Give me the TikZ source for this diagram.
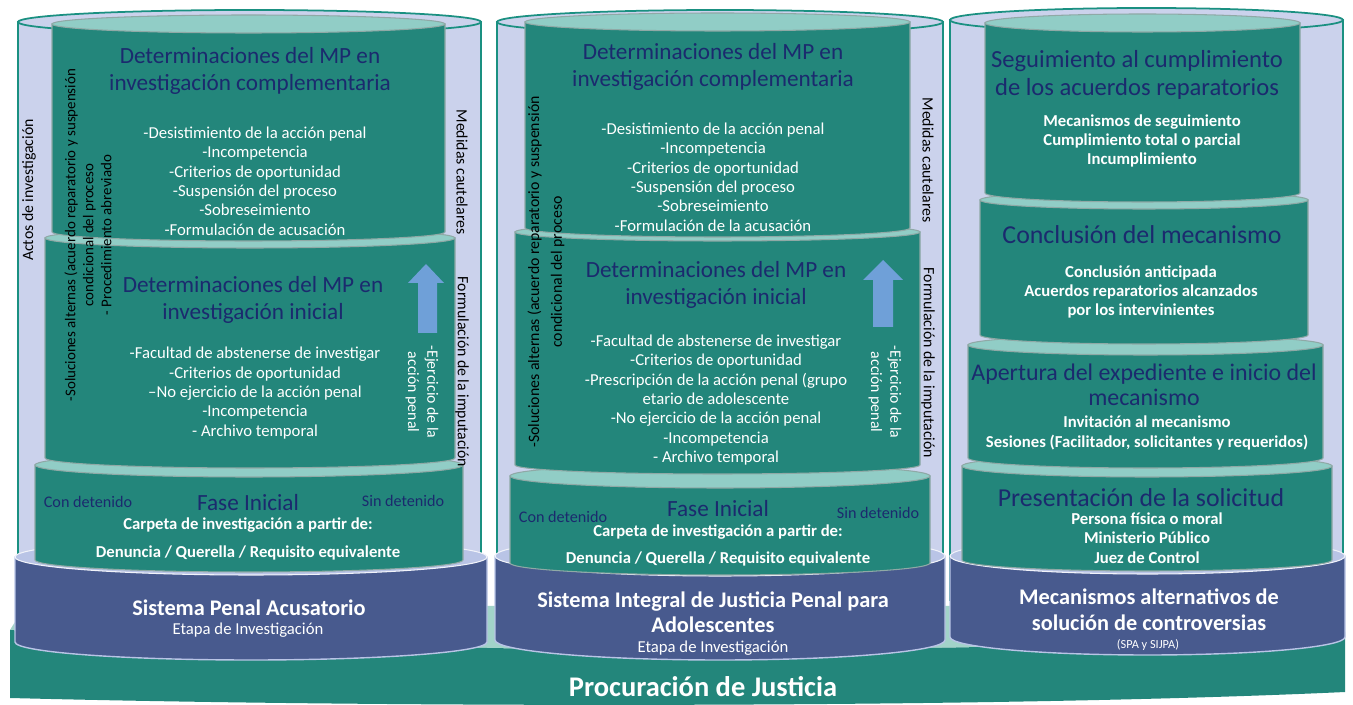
\documentclass[tikz,border=0pt]{standalone}
\usepackage{fontspec}
\setmainfont{Carlito}
\usepackage{xcolor}

\definecolor{drumteal}{HTML}{23867B}
\definecolor{drumlight}{HTML}{91CDC6}
\definecolor{drumedge}{HTML}{8FA9A6}
\definecolor{outerfill}{HTML}{CBD2EC}
\definecolor{outerline}{HTML}{1A9081}
\definecolor{basefill}{HTML}{485A8E}
\definecolor{baselight}{HTML}{B9C4E6}
\definecolor{slabfill}{HTML}{23867B}
\definecolor{slablight}{HTML}{A2D3C9}
\definecolor{arrowblue}{HTML}{6FA0D8}
\definecolor{titlenavy}{HTML}{1B2A6E}

\begin{document}
\begin{tikzpicture}[x=0.02cm,y=0.02cm,yscale=-1,
    drumbody/.style={fill=drumteal,draw=drumedge,line width=0.6pt},
    drumtop/.style={fill=drumlight,draw=drumedge,line width=0.6pt},
    outerbody/.style={fill=outerfill,draw=outerline,line width=1pt},
    basebody/.style={fill=basefill,draw=baselight,line width=0.8pt},
    basetop/.style={fill=baselight,draw=white!80!baselight,line width=0.6pt},
    titletext/.style={text=titlenavy,align=center,font=\fontsize{13.2}{15.3}\selectfont},
    bigtitle/.style={text=titlenavy,align=center,font=\fontsize{14.7}{15.9}\selectfont},
    listtext/.style={text=white,align=center,font=\fontsize{9.5}{11}\selectfont},
    boldlist/.style={text=white,align=center,font=\fontsize{9.5}{11}\selectfont\bfseries},
    sidetext/.style={text=titlenavy,font=\fontsize{9.2}{11}\selectfont},
    systext/.style={text=white,align=center,font=\fontsize{12.7}{14.3}\selectfont\bfseries},
    vtext/.style={text=black,align=center,font=\fontsize{9}{11}\selectfont},
  ]
  \useasboundingbox (0,0) rectangle (1353,705);

  % Base slab
  \fill[slablight] (10,630) -- (25,606) -- (1333,606) -- (1345,632)
    .. controls (1000,656) and (400,656) .. (10,630) -- cycle;
  \fill[slabfill] (10,630) .. controls (400,656) and (1000,656) .. (1345,632)
    -- (1345,692) .. controls (1000,708) and (400,708) .. (10,698) -- cycle;

  % Outer cylinders
  \foreach \xa/\xb/\yt/\ry in {18/481/22/12, 497/943/22/12, 950/1343/20/12}
  {
    \pgfmathsetmacro\rx{(\xb-\xa)/2}
    \pgfmathsetmacro\xm{(\xa+\xb)/2}
    \filldraw[outerbody] (\xa,\yt) -- (\xa,600) -- (\xb,600) -- (\xb,\yt) -- cycle;
    \filldraw[outerbody] (\xm,\yt) ellipse[x radius=\rx,y radius=\ry];
  }

  % Blue bases
  \foreach \xa/\xb/\yt/\yb/\ry in {15/487/557/642/18, 495/945/556/640/20, 950/1345/556/637/18}
  {
    \pgfmathsetmacro\rx{(\xb-\xa)/2}
    \pgfmathsetmacro\xm{(\xa+\xb)/2}
    \filldraw[basebody] (\xa,\yt) -- (\xa,\yb)
      arc[start angle=180,end angle=0,x radius=\rx,y radius=\ry] -- (\xb,\yt) -- cycle;
    \filldraw[basetop] (\xm,\yt) ellipse[x radius=\rx,y radius=\ry];
  }

  % Drums (lowest first)
  \foreach \xa/\xb/\yt/\yb/\ry in {35/463/465/560/12, 45/455/238/458/10, 52/445/24/232/9,
      510/930/476/563/12, 515/920/232/465/9, 525/910/22/228/9,
      962/1332/466/560/11, 968/1323/345/458/10, 980/1308/200/335/9, 985/1300/23/193/9}
  {
    \pgfmathsetmacro\rx{(\xb-\xa)/2}
    \pgfmathsetmacro\xm{(\xa+\xb)/2}
    \filldraw[drumbody] (\xa,\yt) -- (\xa,\yb)
      arc[start angle=180,end angle=0,x radius=\rx,y radius=\ry] -- (\xb,\yt) -- cycle;
    \filldraw[drumtop] (\xm,\yt) ellipse[x radius=\rx,y radius=\ry];
  }

  % Arrows
  \fill[arrowblue] (418,333) -- (418,283) -- (408,283) -- (426,264) -- (444,283) -- (437,283) -- (437,333) -- cycle;
  \fill[arrowblue] (873,327) -- (873,280) -- (863,280) -- (883,260) -- (903,280) -- (893,280) -- (893,327) -- cycle;

  % Column 1
  \node[titletext] (c1tc) at (250,71) {Determinaciones del MP en\\investigación complementaria};
  \node[listtext] (c1lc) at (255,181) {-Desistimiento de la acción penal\\-Incompetencia\\-Criterios de oportunidad\\-Suspensión del proceso\\-Sobreseimiento\\-Formulación de acusación};
  \node[titletext] (c1ti) at (253,300) {Determinaciones del MP en\\investigación inicial};
  \node[listtext] (c1li) at (255,393) {-Facultad de abstenerse de investigar\\-Criterios de oportunidad\\--No ejercicio de la acción penal\\-Incompetencia\\- Archivo temporal};
  \node[sidetext] (c1con) at (88,502) {Con detenido};
  \node[titletext] (c1fase) at (248,503) {Fase Inicial};
  \node[sidetext] (c1sin) at (403,501) {Sin detenido};
  \node[boldlist] (c1carp) at (248,525) {Carpeta de investigación a partir de:};
  \node[boldlist] (c1den) at (248,553) {Denuncia / Querella / Requisito equivalente};
  \node[systext] (c1sis) at (249,608) {Sistema Penal Acusatorio};
  \node[listtext] (c1eta) at (248,630) {Etapa de Investigación};
  \node[vtext,rotate=90] (c1act) at (29,190) {Actos de investigación};
  \node[vtext,rotate=90,font=\fontsize{8.5}{10.2}\selectfont] (c1sol) at (88,235) {-Soluciones alternas (acuerdo reparatorio y suspensión\\condicional del proceso\\- Procedimiento abreviado};
  \node[vtext,rotate=-90] (c1med) at (462,172) {Medidas cautelares};
  \node[vtext,rotate=-90] (c1for) at (462,372) {Formulación de la imputación};
  \node[vtext,rotate=-90,text=white] (c1eje) at (422,392) {-Ejercicio de la\\acción penal};

  % Column 2
  \node[titletext] (c2tc) at (713,67) {Determinaciones del MP en\\investigación complementaria};
  \node[listtext] (c2lc) at (713,177) {-Desistimiento de la acción penal\\-Incompetencia\\-Criterios de oportunidad\\-Suspensión del proceso\\-Sobreseimiento\\-Formulación de la acusación};
  \node[titletext] (c2ti) at (716,285) {Determinaciones del MP en\\investigación inicial};
  \node[listtext] (c2li) at (716,400) {-Facultad de abstenerse de investigar\\-Criterios de oportunidad\\-Prescripción de la acción penal (grupo\\etario de adolescente\\-No ejercicio de la acción penal\\-Incompetencia\\- Archivo temporal};
  \node[sidetext] (c2con) at (563,517) {Con detenido};
  \node[titletext] (c2fase) at (718,509) {Fase Inicial};
  \node[sidetext] (c2sin) at (878,513) {Sin detenido};
  \node[boldlist] (c2carp) at (718,532) {Carpeta de investigación a partir de:};
  \node[boldlist] (c2den) at (718,559) {Denuncia / Querella / Requisito equivalente};
  \node[systext] (c2sis) at (713,612) {Sistema Integral de Justicia Penal para\\Adolescentes};
  \node[listtext] (c2eta) at (713,648) {Etapa de Investigación};
  \node[vtext,rotate=90,font=\fontsize{9}{13}\selectfont] (c2sol) at (546,272) {-Soluciones alternas (acuerdo reparatorio y suspensión\\condicional del proceso};
  \node[vtext,rotate=-90] (c2med) at (928,160) {Medidas cautelares};
  \node[vtext,rotate=-90] (c2for) at (928,363) {Formulación de la imputación};
  \node[vtext,rotate=-90,text=white] (c2eje) at (885,392) {-Ejercicio de la\\acción penal};

  % Column 3
  \node[bigtitle,font=\fontsize{14}{15.9}\selectfont] (c3ts) at (1137,75) {Seguimiento al cumplimiento\\de los acuerdos reparatorios};
  \node[boldlist] (c3ls) at (1142,141) {Mecanismos de seguimiento\\Cumplimiento total o parcial\\Incumplimiento};
  \node[bigtitle] (c3tc) at (1142,235) {Conclusión del mecanismo};
  \node[boldlist] (c3lc) at (1141,292) {Conclusión anticipada\\Acuerdos reparatorios alcanzados\\por los intervinientes};
  \node[bigtitle,font=\fontsize{13.6}{14.5}\selectfont] (c3ta) at (1144,385) {Apertura del expediente e inicio del\\mecanismo};
  \node[boldlist] (c3la) at (1147,433) {Invitación al mecanismo\\Sesiones (Facilitador, solicitantes y requeridos)};
  \node[bigtitle] (c3tp) at (1141,498) {Presentación de la solicitud};
  \node[boldlist] (c3lp) at (1147,538) {Persona física o moral\\Ministerio Público\\Juez de Control};
  \node[systext,font=\fontsize{12.7}{14.7}\selectfont\bfseries] (c3mas) at (1149,610) {Mecanismos alternativos de\\solución de controversias};
  \node[listtext,font=\fontsize{7}{8}\selectfont] (c3spa) at (1148,645) {(SPA y SIJPA)};

  % Base label
  \node[systext,font=\fontsize{16.2}{18}\selectfont\bfseries] (proc) at (703,687) {Procuración de Justicia};
\end{tikzpicture}
\end{document}
